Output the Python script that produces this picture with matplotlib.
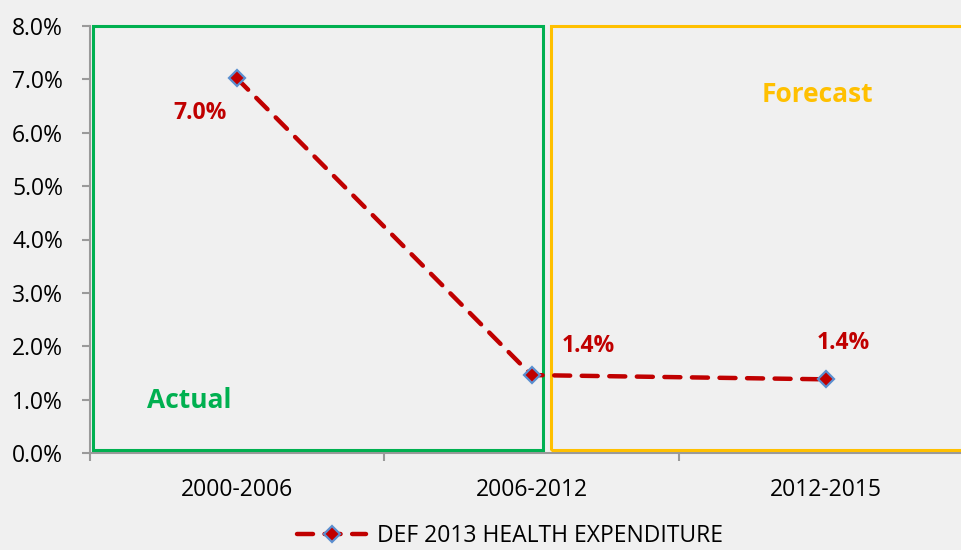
import matplotlib.pyplot as plt
from matplotlib.patches import Rectangle
from matplotlib.ticker import FuncFormatter

plt.rcParams['font.family'] = ['Open Sans', 'DejaVu Sans']

periods = ['2000-2006', '2006-2012', '2012-2015']
growth = [7.02, 1.46, 1.38]
labels = ['7.0%', '1.4%', '1.4%']
series_name = 'DEF 2013 HEALTH EXPENDITURE'

bg = '#f0f0f0'
red = '#c00000'
green = '#00b050'
orange = '#ffc000'

fig = plt.figure(figsize=(9.61, 5.5), dpi=100, facecolor=bg)
ax = fig.add_axes([89.5/961, 97/550, 884/961, 427/550], facecolor=bg)

x = list(range(len(periods)))
line, = ax.plot(x, growth, color=red, lw=3.2, ls=(0, (3.6, 2.6)),
                dash_capstyle='round', marker='D', ms=8,
                mfc=red, mec='#5b8fd0', mew=1.6, zorder=5,
                label=series_name)

# actual / forecast boxes
ax.add_patch(Rectangle((-0.488, 0.05), 1.528, 7.95, fill=False,
                       ec=green, lw=2.2, clip_on=False, zorder=3))
ax.add_patch(Rectangle((1.067, 0.05), 1.6, 7.95, fill=False,
                       ec=orange, lw=2.2, clip_on=False, zorder=3))

# data labels
label_pos = [(-0.125, 6.37), (1.193, 2.0), (2.058, 2.06)]
for (lx, ly), t in zip(label_pos, labels):
    ax.text(lx, ly, t, color=red, fontsize=16.5, fontweight='bold',
            ha='center', va='center')

ax.text(-0.162, 0.99, 'Actual', color=green, fontsize=19,
        fontweight='bold', ha='center', va='center')
ax.text(1.97, 6.72, 'Forecast', color=orange, fontsize=19,
        fontweight='bold', ha='center', va='center')

ax.set_xlim(-0.5, 2.5)
ax.set_ylim(0, 8)
ax.set_yticks([i for i in range(9)])
ax.yaxis.set_major_formatter(FuncFormatter(lambda v, p: f'{v:.1f}%'))
ax.set_xticks(x)
ax.set_xticklabels(periods)
ax.set_xticks([-0.5, 0.5, 1.5, 2.5], minor=True)

for s in ['top', 'right']:
    ax.spines[s].set_visible(False)
for s in ['left', 'bottom']:
    ax.spines[s].set_color('#9a9a9a')
    ax.spines[s].set_linewidth(1.5)

ax.tick_params(axis='y', colors='#9a9a9a', labelcolor='black',
               labelsize=16.5, length=6, width=1.5, pad=13)
ax.tick_params(axis='x', which='major', length=0, labelsize=16.5,
               labelcolor='black', pad=18)
ax.tick_params(axis='x', which='minor', colors='#9a9a9a', length=6,
               width=1.5, direction='out')

fig.legend(handles=[line], loc='center', bbox_to_anchor=(0.531, 0.026),
           frameon=False, fontsize=16.5, handlelength=3.0,
           handletextpad=0.5, borderpad=0.1)

fig.savefig('out.png', dpi=100, facecolor=bg)
